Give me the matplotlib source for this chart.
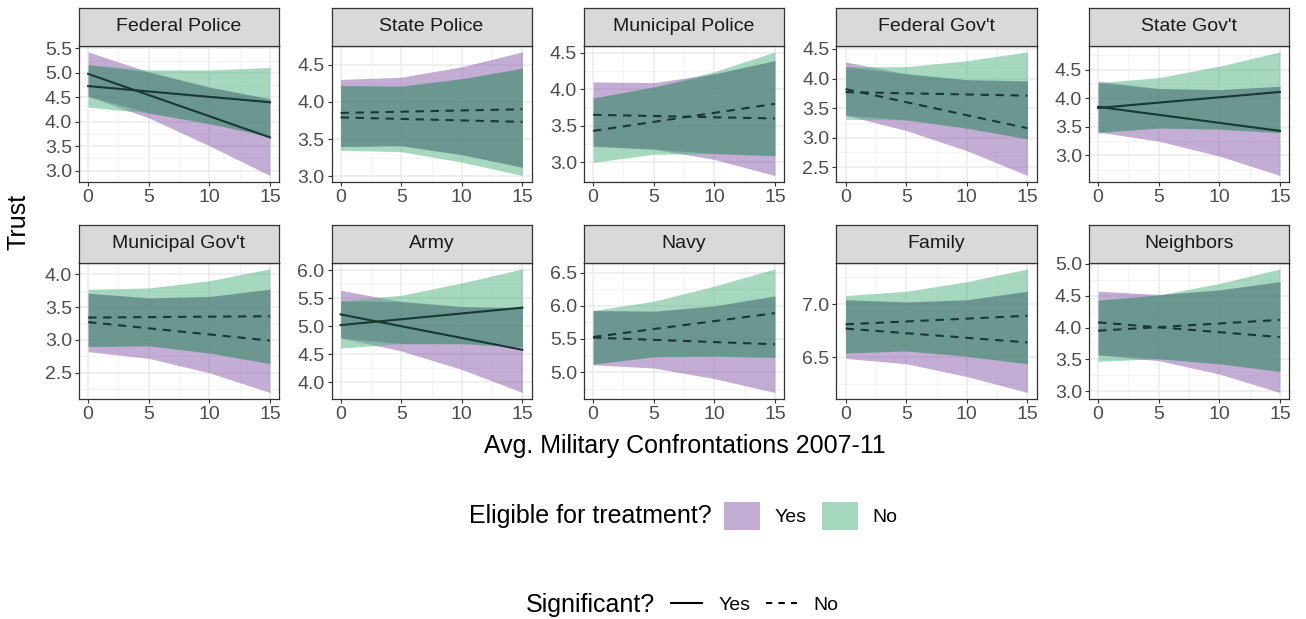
import numpy as np
import matplotlib
matplotlib.use("Agg")
from matplotlib import pyplot as plt
from matplotlib.ticker import MultipleLocator, FormatStrFormatter
from matplotlib.patches import Patch
from matplotlib.lines import Line2D

plt.rcParams['font.family'] = ['Liberation Sans', 'DejaVu Sans']

panels = ["Federal Police", "State Police", "Municipal Police", "Federal Gov't", "State Gov't",
          "Municipal Gov't", "Army", "Navy", "Family", "Neighbors"]
significant = [True, False, False, False, True, False, True, False, False, False]

line_x = [0, 15]
band_x = [0, 5, 10, 15]

# fitted lines (x = 0 and x = 15)
yes_line = [[4.98, 3.68], [3.85, 3.90], [3.65, 3.60], [3.82, 3.16], [3.85, 3.43],
            [3.27, 2.99], [5.21, 4.58], [5.52, 5.42], [6.77, 6.64], [4.08, 3.85]]
no_line = [[4.73, 4.40], [3.79, 3.73], [3.43, 3.80], [3.77, 3.71], [3.83, 4.11],
           [3.34, 3.36], [5.02, 5.33], [5.53, 5.89], [6.81, 6.89], [3.95, 4.12]]

# confidence bands at x = 0, 5, 10, 15
yes_lo = [[4.52, 4.08, 3.51, 2.90], [3.40, 3.41, 3.29, 3.12], [3.22, 3.18, 3.04, 2.82],
          [3.38, 3.12, 2.78, 2.36], [3.41, 3.25, 2.99, 2.65], [2.82, 2.72, 2.50, 2.20],
          [4.79, 4.56, 4.23, 3.82], [5.11, 5.06, 4.90, 4.69], [6.49, 6.44, 6.32, 6.17],
          [3.57, 3.48, 3.27, 2.98]]
yes_hi = [[5.43, 5.02, 4.71, 4.47], [4.30, 4.33, 4.47, 4.67], [4.10, 4.09, 4.21, 4.39],
          [4.28, 4.08, 3.98, 3.96], [4.30, 4.17, 4.15, 4.21], [3.71, 3.64, 3.66, 3.77],
          [5.64, 5.44, 5.35, 5.33], [5.93, 5.92, 6.00, 6.15], [7.04, 7.02, 7.04, 7.12],
          [4.57, 4.52, 4.59, 4.72]]
no_lo = [[4.30, 4.18, 3.96, 3.70], [3.35, 3.33, 3.19, 3.01], [3.00, 3.11, 3.12, 3.09],
         [3.31, 3.30, 3.16, 2.98], [3.39, 3.48, 3.46, 3.40], [2.90, 2.91, 2.80, 2.64],
         [4.61, 4.69, 4.69, 4.63], [5.12, 5.23, 5.24, 5.22], [6.54, 6.56, 6.51, 6.44],
         [3.47, 3.51, 3.43, 3.31]]
no_hi = [[5.17, 5.06, 5.06, 5.11], [4.22, 4.21, 4.31, 4.45], [3.88, 4.03, 4.24, 4.51],
         [4.20, 4.20, 4.30, 4.45], [4.27, 4.36, 4.56, 4.81], [3.77, 3.79, 3.90, 4.08],
         [5.45, 5.55, 5.77, 6.02], [5.93, 6.07, 6.30, 6.56], [7.08, 7.12, 7.21, 7.33],
         [4.43, 4.51, 4.69, 4.92]]

PURPLE = '#895DAD'
GREEN = '#4DB381'
OVERLAP = '#1A4A45'
LINE = '#173833'
DASH = (0, (4, 3.2))

W, H = 1306, 619
fig = plt.figure(figsize=(W / 100, H / 100), dpi=100)

col_left = [79, 331.5, 584, 836.5, 1089]
row_top = [45.7, 262.7]
pw, ph, sh = 200, 136, 38


def px_box(x, y_top, w, h):
    return [x / W, 1 - (y_top + h) / H, w / W, h / H]


for i, name in enumerate(panels):
    r, c = divmod(i, 5)
    ax = fig.add_axes(px_box(col_left[c], row_top[r], pw, ph))
    ax.fill_between(band_x, yes_lo[i], yes_hi[i], color=PURPLE, alpha=0.5, lw=0)
    ax.fill_between(band_x, no_lo[i], no_hi[i], color=GREEN, alpha=0.5, lw=0)
    both_lo = np.maximum(yes_lo[i], no_lo[i])
    both_hi = np.minimum(yes_hi[i], no_hi[i])
    ax.fill_between(band_x, both_lo, both_hi, color=OVERLAP, alpha=0.24, lw=0)
    ls = '-' if significant[i] else DASH
    ax.plot(line_x, yes_line[i], color=LINE, lw=1.5, ls=ls)
    ax.plot(line_x, no_line[i], color=LINE, lw=1.5, ls=ls)

    ax.set_xticks([0, 5, 10, 15])
    ax.xaxis.set_minor_locator(MultipleLocator(2.5))
    ax.yaxis.set_major_locator(MultipleLocator(0.5))
    ax.yaxis.set_minor_locator(MultipleLocator(0.25))
    ax.yaxis.set_major_formatter(FormatStrFormatter('%.1f'))
    ax.grid(which='major', color='#EBEBEB', lw=1.1)
    ax.grid(which='minor', color='#F2F2F2', lw=0.6)
    ax.set_axisbelow(True)
    ax.tick_params(which='major', length=3, width=0.8, color='#333333',
                   labelcolor='#4D4D4D', labelsize=14, pad=2)
    ax.tick_params(which='minor', length=0)
    for s in ax.spines.values():
        s.set_color('#333333')
        s.set_linewidth(0.9)

    sax = fig.add_axes(px_box(col_left[c], row_top[r] - sh, pw, sh))
    sax.set_facecolor('#D9D9D9')
    sax.set_xticks([])
    sax.set_yticks([])
    for s in sax.spines.values():
        s.set_color('#333333')
        s.set_linewidth(0.9)
    sax.text(0.5, 0.5, name, ha='center', va='center', fontsize=14, color='#1A1A1A',
             transform=sax.transAxes)

fig.text(18 / W, 1 - 222 / H, 'Trust', rotation=90, ha='center', va='center', fontsize=18)
fig.text(684.5 / W, 1 - 446 / H, 'Avg. Military Confrontations 2007-11',
         ha='center', va='center', fontsize=18)

# legend: eligible for treatment
fig.text(712 / W, 1 - 516 / H, 'Eligible for treatment?', ha='right', va='center', fontsize=18)
fill_handles = [Patch(facecolor=PURPLE, alpha=0.5, lw=0), Patch(facecolor=GREEN, alpha=0.5, lw=0)]
fig.legend(fill_handles, ['Yes', 'No'], loc='center left', bbox_to_anchor=(724 / W, 1 - 516 / H),
           ncol=2, frameon=False, fontsize=14, handlelength=1.85, handleheight=1.85,
           handletextpad=0.75, columnspacing=0.8, borderpad=0, borderaxespad=0)

# legend: significant
fig.text(655 / W, 1 - 605 / H, 'Significant?', ha='right', va='center', fontsize=18)
line_handles = [Line2D([], [], color='black', lw=1.5, ls='-'),
                Line2D([], [], color='black', lw=1.5, ls=(0, (3, 3)))]
fig.legend(line_handles, ['Yes', 'No'], loc='center left', bbox_to_anchor=(671 / W, 1 - 605 / H),
           ncol=2, frameon=False, fontsize=14, handlelength=1.6,
           handletextpad=0.85, columnspacing=0.8, borderpad=0, borderaxespad=0)

fig.savefig('out.png', dpi=100)
